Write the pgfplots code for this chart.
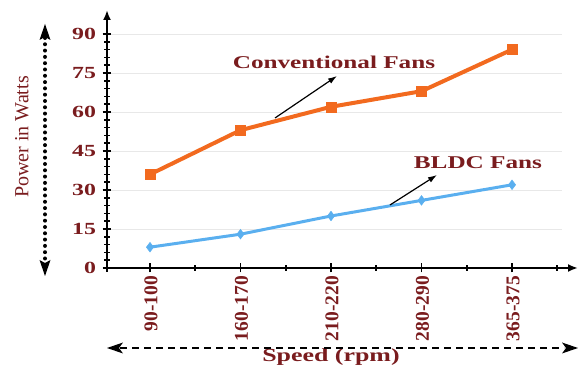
\documentclass[border=0pt]{standalone}
\usepackage{fontspec}
\setmainfont{Liberation Serif}
\newfontfamily\wide{Liberation Serif}[FakeStretch=1.4]
\usepackage{pgfplots}
\pgfplotsset{compat=1.18}
\usetikzlibrary{arrows.meta}
\definecolor{dred}{HTML}{7A1C1E}
\definecolor{corange}{HTML}{F26A1F}
\definecolor{cblue}{HTML}{5AAFEF}
\begin{document}
\begin{tikzpicture}[x=1pt,y=1pt]
\useasboundingbox (0,0) rectangle (582,371);
\begin{axis}[
  at={(107pt,103pt)}, anchor=south west,
  scale only axis, width=454.8pt, height=234pt,
  xmin=-0.475, xmax=4.55, ymin=0, ymax=90,
  axis x line*=bottom, axis y line*=left,
  axis line style={draw=none},
  clip=false,
  xtick={0,1,2,3,4},
  xticklabels={90-100,160-170,210-220,280-290,365-375},
  minor xtick={0.5,1.5,2.5,3.5,4.5},
  ytick={0,15,30,45,60,75,90},
  minor y tick num=4,
  tick align=center,
  major tick length=9pt, minor tick length=6pt,
  every tick/.style={black, line width=1.6pt},
  ymajorgrids, grid style={gray!18, line width=0.9pt},
  /pgf/number format/assume math mode=true,
  xticklabel style={rotate=90, anchor=east, font=\fontsize{19.5}{19.5}\selectfont\bfseries, text=dred, yshift=-1pt},
  yticklabel style={font=\wide\fontsize{17}{17}\selectfont\bfseries, text=dred, xshift=-3pt},
]
\draw[gray!18, line width=0.9pt] (axis cs:-0.475,0) -- (axis cs:4.55,0);
\addplot[corange, line width=4pt, mark=square*, mark size=5pt, mark options={line width=0.5pt}] coordinates {(0,36) (1,53) (2,62) (3,68) (4,84)};
\addplot[cblue, line width=3pt, mark=diamond*, mark size=4.8pt, mark options={line width=0.5pt}] coordinates {(0,8) (1,13) (2,20) (3,26) (4,32)};
\end{axis}
% axis lines with arrows
\draw[line width=2.2pt, -{Latex[length=10pt,width=8pt]}] (103,103) -- (578,103);
\draw[line width=2.2pt, -{Latex[length=10pt,width=8pt]}] (107,99) -- (107,361);
% annotations
\node[text=dred, font=\wide\fontsize{18}{18}\selectfont\bfseries] at (334,309) {Conventional Fans};
\draw[line width=1.2pt, -{Latex[length=9pt,width=6pt]}] (275,253) -- (337,295);
\node[text=dred, font=\wide\fontsize{18}{18}\selectfont\bfseries] at (478,208) {BLDC Fans};
\draw[line width=1.2pt, -{Latex[length=9pt,width=6pt]}] (390,166) -- (437,196);
% axis titles
\node[text=dred, font=\wide\fontsize{18.5}{18.5}\selectfont\bfseries] at (331,14) {Speed (rpm)};
\draw[line width=2.4pt, dash pattern=on 7pt off 5pt] (120,23) -- (564,23);
\fill (107,23) -- (123,28.5) -- (119,23) -- (123,17.5) -- cycle;
\fill (578,23) -- (562,28.5) -- (566,23) -- (562,17.5) -- cycle;
\node[text=dred, rotate=90, font=\fontsize{20}{20}\selectfont] at (22,234) {Power in Watts};
\draw[line width=4pt, line cap=round, dash pattern=on 0pt off 6.3pt] (45,333) -- (45,109);
\fill (45,347) -- (39.5,331) -- (45,334) -- (50.5,331) -- cycle;
\fill (45,95) -- (39.5,111) -- (45,108) -- (50.5,111) -- cycle;
\end{tikzpicture}
\end{document}
